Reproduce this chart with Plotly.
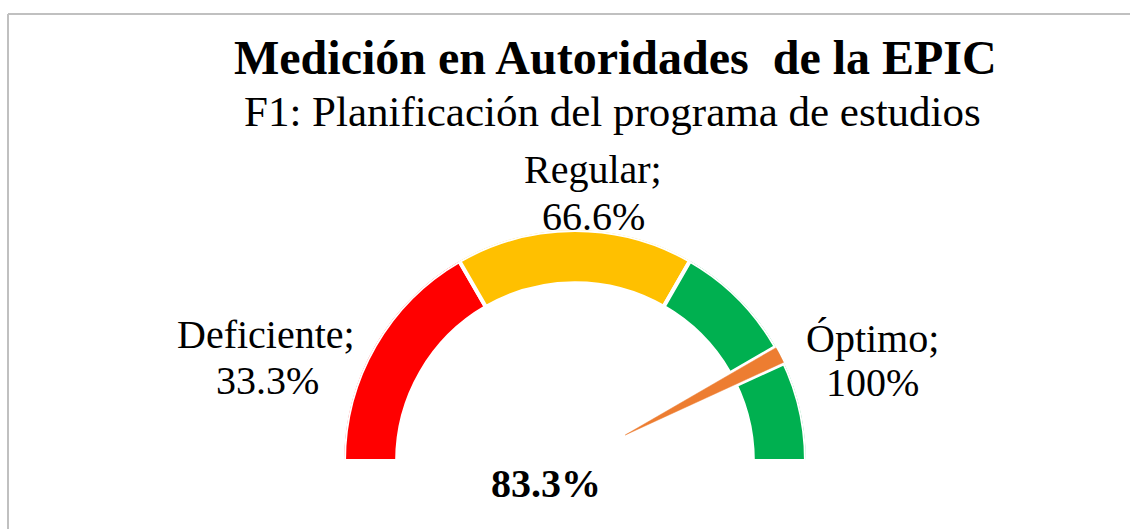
import math
import plotly.graph_objects as go

# ---------------- data ----------------
CATEGORIES = ["Deficiente", "Regular", "Óptimo"]
UPPER_LIMITS = [33.3, 66.6, 100.0]        # % where each band ends
BAND_LABELS = ["33.3%", "66.6%", "100%"]
NEEDLE_VALUE = 83.3                       # gauge reading (%)
NEEDLE_LABEL = "83.3%"
NEEDLE_SPAN = 3.0                         # width of the needle slice (% of gauge)
TITLE = "Medición en Autoridades\u00a0 de la EPIC"
SUBTITLE = "F1: Planificación del programa de estudios"

# ---------------- style ----------------
BAND_COLORS = ["#FF0000", "#FFC000", "#00B050"]
NEEDLE_COLOR = "#ED7D31"
FONT = "Liberation Serif, Times New Roman, serif"
W, H = 1130, 529
CX, CY, R = 575, 461, 231      # gauge centre / outer radius in px
HOLE = 0.77                    # inner radius fraction
PULL = 0.245                   # needle slice pull (fraction of outer radius)
DEG = 180.0 / 100.0            # degrees per % of the half gauge

lower = [0.0] + UPPER_LIMITS[:-1]
band_theta = [(lo + hi) / 2 * DEG for lo, hi in zip(lower, UPPER_LIMITS)]
band_width = [(hi - lo) * DEG for lo, hi in zip(lower, UPPER_LIMITS)]

fig = go.Figure()

fig.add_trace(go.Barpolar(
    theta=band_theta,
    width=band_width,
    r=[1 - HOLE] * len(CATEGORIES),
    base=[HOLE] * len(CATEGORIES),
    marker=dict(color=BAND_COLORS, line=dict(color="white", width=4)),
    hoverinfo="skip",
    showlegend=False,
))

# needle: a pulled pie slice between NEEDLE_VALUE and NEEDLE_VALUE+NEEDLE_SPAN
a1 = NEEDLE_VALUE * DEG
a2 = (NEEDLE_VALUE + NEEDLE_SPAN) * DEG
ac = (a1 + a2) / 2


def xy(rr, a):
    phi = math.radians(180 - a)
    return rr * math.cos(phi), rr * math.sin(phi)


apx, apy = xy(PULL, ac)
rn = 1 - PULL
pts = [(apx, apy)]
nstep = 8
for i in range(nstep + 1):
    a = a1 + (a2 - a1) * i / nstep
    dx, dy = xy(rn, a)
    pts.append((apx + dx, apy + dy))
pts.append((apx, apy))
needle_r = [math.hypot(x, y) for x, y in pts]
needle_t = [180 - math.degrees(math.atan2(y, x)) for x, y in pts]

# white outline (halo) under the needle, then the needle itself
fig.add_trace(go.Scatterpolar(
    r=needle_r, theta=needle_t, mode="lines", fill="toself",
    fillcolor="white", line=dict(color="white", width=6),
    hoverinfo="skip", showlegend=False,
))
fig.add_trace(go.Scatterpolar(
    r=needle_r, theta=needle_t, mode="lines", fill="toself",
    fillcolor=NEEDLE_COLOR, line=dict(color=NEEDLE_COLOR, width=0.5),
    hoverinfo="skip", showlegend=False,
))

fig.update_layout(
    width=W, height=H,
    margin=dict(l=0, r=0, t=0, b=0),
    paper_bgcolor="white",
    plot_bgcolor="white",
    showlegend=False,
    polar=dict(
        domain=dict(x=[(CX - R) / W, (CX + R) / W],
                    y=[(H - CY) / H, (H - CY + R) / H]),
        sector=[0, 180],
        hole=0,
        bgcolor="rgba(0,0,0,0)",
        radialaxis=dict(visible=False, range=[0, 1]),
        angularaxis=dict(visible=False, rotation=180, direction="clockwise",
                         type="linear", thetaunit="degrees"),
    ),
    font=dict(family=FONT, color="black"),
)


def ann(text, x, y, size, bold=False):
    fig.add_annotation(
        text=f"<b>{text}</b>" if bold else text,
        x=x / W, y=1 - y / H, xref="paper", yref="paper",
        xanchor="center", yanchor="middle", showarrow=False,
        font=dict(family=FONT, size=size, color="black"),
    )


ann(TITLE, 615, 57.5, 48, bold=True)
ann(SUBTITLE, 612, 111, 43)
label_pos = [((266, 334), (267, 380)), ((593, 170), (593, 216)), ((872, 338), (872, 382))]
for cat, lab, (p1, p2) in zip(CATEGORIES, BAND_LABELS, label_pos):
    ann(cat + ";", p1[0], p1[1], 40)
    ann(lab, p2[0], p2[1], 40)
ann(NEEDLE_LABEL, 546, 483, 40, bold=True)

# chart-area border (top and left visible)
BX, BY = 8, 14
fig.add_shape(type="line", xref="paper", yref="paper",
              x0=BX / W, x1=1, y0=1 - BY / H, y1=1 - BY / H,
              line=dict(color="#C0C0C0", width=2))
fig.add_shape(type="line", xref="paper", yref="paper",
              x0=BX / W, x1=BX / W, y0=1 - BY / H, y1=0,
              line=dict(color="#C0C0C0", width=2))

fig.write_html("out.html", config={"displayModeBar": False},
               post_script="document.body.style.margin='0';document.body.style.overflow='hidden';")
